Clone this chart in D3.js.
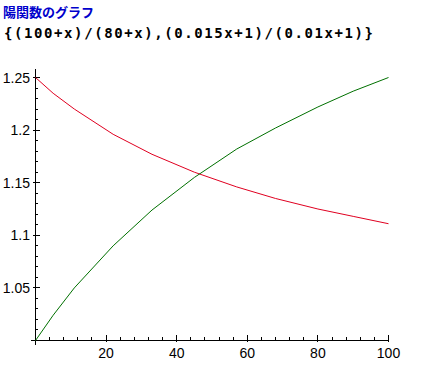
<!DOCTYPE html>
<html>
<head>
<meta charset="utf-8">
<script src="https://cdn.jsdelivr.net/npm/d3@7"></script>
<style>
  body { margin: 0; background: #fff; }
  svg { display: block; }
</style>
</head>
<body>
<svg id="chart" width="438" height="387"></svg>
<script>
const titleText = "陽関数のグラフ";
const formulaText = "{(100+x)/(80+x),(0.015x+1)/(0.01x+1)}";

// values
const xs        = [0, 5, 11, 22, 33, 45, 57, 68, 80, 90, 100];
const redVals   = [1.25, 1.235, 1.220, 1.196, 1.177, 1.160, 1.146, 1.135, 1.125, 1.118, 1.111];
const greenVals = [1.0, 1.024, 1.050, 1.090, 1.124, 1.155, 1.182, 1.202, 1.222, 1.237, 1.25];

const xTicks = [20, 40, 60, 80, 100];
const yTicks = [1.05, 1.1, 1.15, 1.2, 1.25];

const svg = d3.select("#chart");

const x = d3.scaleLinear().domain([0, 100]).range([35.5, 388.5]);
const y = d3.scaleLinear().domain([1.0, 1.25]).range([340.5, 77.5]);

svg.append("text")
   .attr("x", 3).attr("y", 17)
   .attr("fill", "#0000cc")
   .style("font-family", "'Noto Sans CJK JP'")
   .style("font-weight", "bold")
   .style("font-size", "13px")
   .text(titleText);

svg.append("text")
   .attr("x", 4).attr("y", 38)
   .attr("fill", "#000")
   .attr("textLength", 369)
   .attr("lengthAdjust", "spacing")
   .style("font-family", "'DejaVu Sans Mono'")
   .style("font-weight", "bold")
   .style("font-size", "14px")
   .text(formulaText);

const axisG = svg.append("g").attr("fill", "#000");

// axes drawn as 1px rects
const x0 = Math.floor(x(0)), yb = Math.floor(y(1.0));
axisG.append("rect")
   .attr("x", x0).attr("y", Math.floor(y(1.258)))
   .attr("width", 1).attr("height", yb + 5 - Math.floor(y(1.258)));
axisG.append("rect")
   .attr("x", x0 - 4).attr("y", yb)
   .attr("width", Math.floor(x(100)) - x0 + 5).attr("height", 1);

// minor / major ticks
const py = d => Math.floor(y(d));
const px = d => Math.floor(x(d));

const yMinor = d3.range(1.01, 1.2551, 0.01);
axisG.selectAll("rect.ymin").data(yMinor).join("rect")
   .attr("class", "ymin")
   .attr("x", x0).attr("y", py)
   .attr("width", 3).attr("height", 1);
axisG.selectAll("rect.ymaj").data(yTicks).join("rect")
   .attr("class", "ymaj")
   .attr("x", x0 - 2).attr("y", py)
   .attr("width", 7).attr("height", 1);

const xMinor = d3.range(4, 100.1, 4);
axisG.selectAll("rect.xmin").data(xMinor).join("rect")
   .attr("class", "xmin")
   .attr("x", px).attr("y", yb - 3)
   .attr("width", 1).attr("height", 3);
axisG.selectAll("rect.xmaj").data(xTicks).join("rect")
   .attr("class", "xmaj")
   .attr("x", px).attr("y", yb - 5)
   .attr("width", 1).attr("height", 7);

// tick labels
svg.selectAll("text.ylab").data(yTicks).join("text")
   .attr("class", "ylab")
   .attr("x", 30).attr("y", d => y(d) + 5)
   .attr("text-anchor", "end")
   .style("font-family", "'Liberation Sans'")
   .style("font-size", "14px")
   .text(d => d3.format("")(d));

svg.selectAll("text.xlab").data(xTicks).join("text")
   .attr("class", "xlab")
   .attr("x", d => x(d)).attr("y", 358)
   .attr("text-anchor", "middle")
   .style("font-family", "'Liberation Sans'")
   .style("font-size", "14px")
   .text(d => d);

// curves
const line = d3.line().x(d => x(d[0])).y(d => y(d[1]));
svg.append("path")
   .attr("d", line(xs.map((v, i) => [v, redVals[i]])))
   .attr("fill", "none").attr("stroke", "#e00020").attr("stroke-width", 1);
svg.append("path")
   .attr("d", line(xs.map((v, i) => [v, greenVals[i]])))
   .attr("fill", "none").attr("stroke", "#007000").attr("stroke-width", 1);
</script>
</body>
</html>
